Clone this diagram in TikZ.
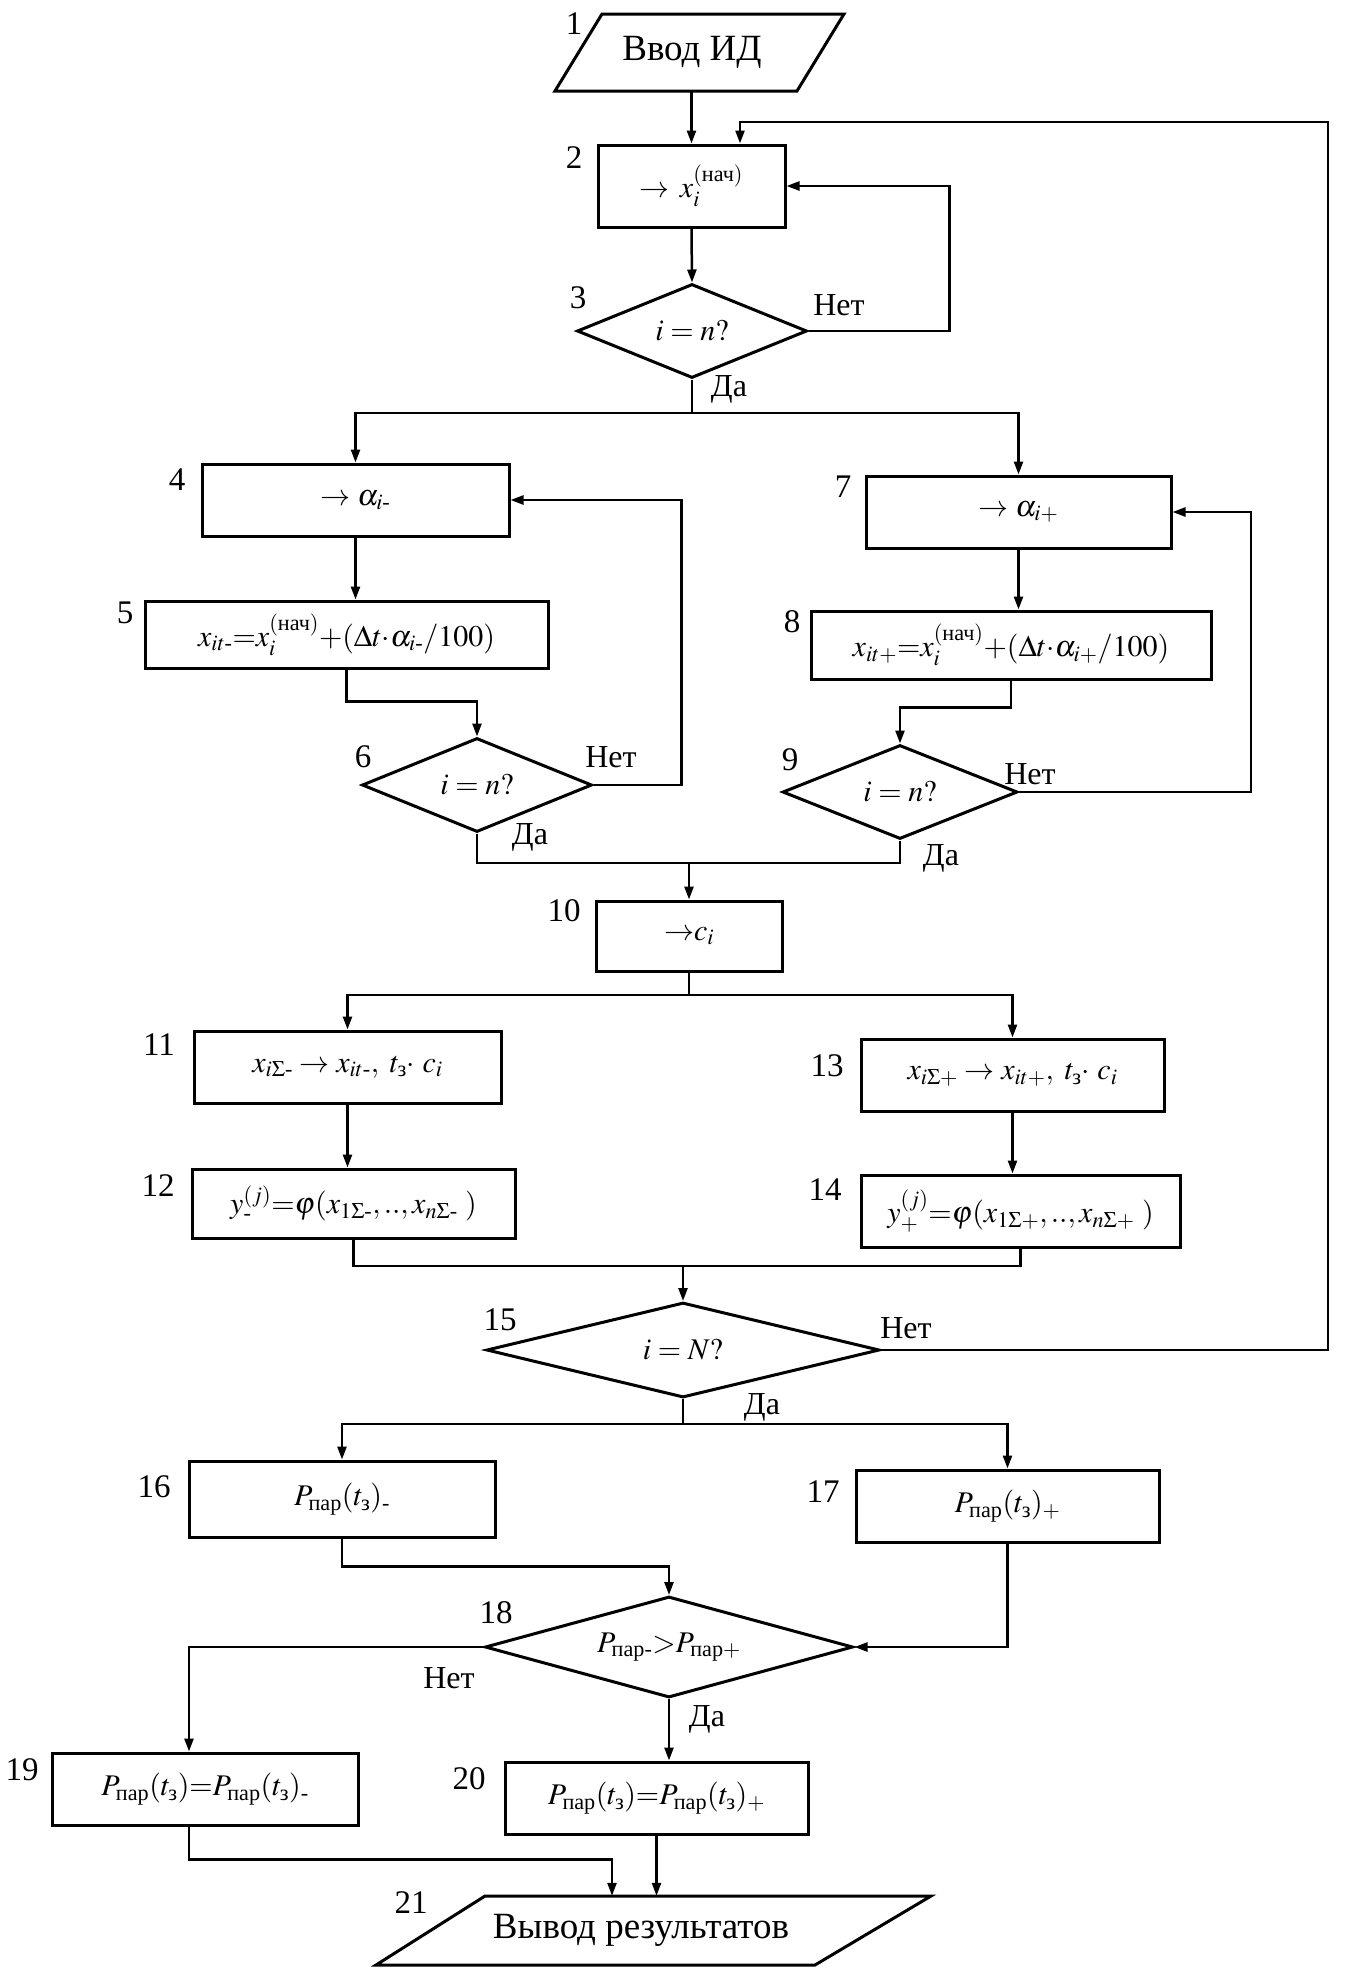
\documentclass[tikz,border=0pt]{standalone}
\usepackage{amsmath}
\usepackage{mathptmx}
\usepackage{fontspec}
\setmainfont{Liberation Serif}
\usetikzlibrary{shapes.geometric,arrows.meta,calc}
\newcommand{\nch}{\text{нач}}
\newcommand{\pr}{\text{пар}}
\newcommand{\tz}{t_{\text{з}}}
\newcommand{\mn}{\text{-}}
\begin{document}
\begin{tikzpicture}[x=1pt,y=-1pt,
  base/.style={draw, line width=3pt, inner sep=0pt, font=\fontsize{30}{36}\selectfont},
  bx/.style 2 args={base, rectangle, minimum width=#1pt, minimum height=#2pt},
  dec/.style 2 args={base, diamond, aspect=3, minimum width=#1pt, minimum height=#2pt},
  iotext/.style 2 args={inner sep=0pt, minimum width=#1pt, minimum height=#2pt, font=\fontsize{37}{44}\selectfont},
  ioline/.style={line width=3pt, line join=miter},
  lab/.style={inner sep=0pt, font=\fontsize{33}{40}\selectfont},
  yn/.style={inner sep=0pt, font=\fontsize{32}{38}\selectfont},
  ln/.style={line width=2.5pt},
  arr/.style={ln, -{Triangle[length=13pt,width=9pt]}}]
\useasboundingbox (0,0) rectangle (1350,1976);

% input / output blocks (parallelograms)
\node[iotext={240}{77}] (n1) at (692,52.5) {Ввод ИД};
\draw[ioline] (602,14) -- (844,14) -- (797,91) -- (555,91) -- cycle;
\node[iotext={300}{69}] (n21) at (641,1930.5) {Вывод результатов};
\draw[ioline] (485,1896) -- (931,1896) -- (815,1965) -- (376,1965) -- cycle;

% process and decision blocks
\node[bx={187}{82}] (n2) at (691.5,186) {$\rightarrow\, x_i^{(\nch)}$};
\node[dec={230}{94}] (n3) at (692,331) {$i = n?$};
\node[bx={307}{72}] (n4) at (355.5,500) {$\rightarrow \alpha_{i\mn}$};
\node[bx={403}{67}] (n5) at (346.5,634.5) {$x_{it\mn}{=}x_i^{(\nch)}{+}(\Delta t{\cdot}\alpha_{i\mn}/100)$};
\node[dec={230}{94}] (n6) at (477,785) {$i = n?$};
\node[bx={305}{72}] (n7) at (1018.5,512) {$\rightarrow \alpha_{i+}$};
\node[bx={400}{68}] (n8) at (1011,645) {$x_{it+}{=}x_i^{(\nch)}{+}(\Delta t{\cdot}\alpha_{i+}/100)$};
\node[dec={235}{94}] (n9) at (900,792) {$i = n?$};
\node[bx={186}{70}] (n10) at (689,936) {${\rightarrow}c_i$};
\node[bx={307}{72}] (n11) at (347.5,1067) {$x_{i\Sigma\mn} \rightarrow x_{it\mn},\ \tz{\cdot}\ c_i$};
\node[bx={323}{69}] (n12) at (353.5,1203.5) {$y_{\mn}^{(j)}{=}\varphi(x_{1\Sigma\mn},.., x_{n\Sigma\mn}\ )$};
\node[bx={303}{72}] (n13) at (1012.5,1075) {$x_{i\Sigma+} \rightarrow x_{it+},\ \tz{\cdot}\ c_i$};
\node[bx={319}{72}] (n14) at (1020.5,1211) {$y_+^{(j)}{=}\varphi(x_{1\Sigma+},.., x_{n\Sigma+}\ )$};
\node[dec={393}{95}] (n15) at (683,1350) {$i = N?$};
\node[bx={306}{76}] (n16) at (342,1499) {$P_{\pr}(\tz)_{\mn}$};
\node[bx={303}{72}] (n17) at (1007.5,1506) {$P_{\pr}(\tz)_+$};
\node[dec={368}{101}] (n18) at (669,1647) {$P_{\pr\mn}{>}P_{\pr+}$};
\node[bx={306}{72}] (n19) at (205,1789) {$P_{\pr}(\tz){=}P_{\pr}(\tz)_{\mn}$};
\node[bx={303}{72}] (n20) at (656.5,1798) {$P_{\pr}(\tz){=}P_{\pr}(\tz)_+$};

% number labels
\node[lab] (l1) at (574,24) {1};
\node[lab] (l2) at (574,158) {2};
\node[lab] (l3) at (578,298) {3};
\node[lab] (l4) at (177,480) {4};
\node[lab] (l5) at (125,613) {5};
\node[lab] (l6) at (363,757) {6};
\node[lab] (l7) at (843,487) {7};
\node[lab] (l8) at (792,622) {8};
\node[lab] (l9) at (790,760) {9};
\node[lab] (l10) at (564,911) {10};
\node[lab] (l11) at (159,1045) {11};
\node[lab] (l12) at (158,1186) {12};
\node[lab] (l13) at (827,1066) {13};
\node[lab] (l14) at (825,1190) {14};
\node[lab] (l15) at (500,1320) {15};
\node[lab] (l16) at (154,1487) {16};
\node[lab] (l17) at (823,1492) {17};
\node[lab] (l18) at (496,1613) {18};
\node[lab] (l19) at (22,1770) {19};
\node[lab] (l20) at (469,1779) {20};
\node[lab] (l21) at (411,1903) {21};

% yes / no labels
\node[yn] (no3) at (839,305) {Нет};
\node[yn] (yes3) at (729,389) {Да};
\node[yn] (no6) at (611,757) {Нет};
\node[yn] (yes6) at (530,837) {Да};
\node[yn] (no9) at (1030,774) {Нет};
\node[yn] (yes9) at (941,858) {Да};
\node[yn] (no15) at (906,1328) {Нет};
\node[yn] (yes15) at (762,1407) {Да};
\node[yn] (no18) at (449,1678) {Нет};
\node[yn] (yes18) at (707,1719) {Да};

% junction coordinates
\coordinate (s3) at (692,413);
\coordinate (m1) at (689,863);
\coordinate (s10) at (689,995);
\coordinate (m2) at (683,1266);
\coordinate (s15) at (683,1424);
\coordinate (top) at (1328,122);

% connectors
\draw[arr] (n1.south -| n2.north) -- (n2.north);
\draw[arr] (n2.south) -- (n3.north);
\draw[arr] (n3.east) -- ++(141,0) |- (n2.east);
\draw[ln] (n3.south) -- (s3);
\draw[arr] (s3) -| (n4.north);
\draw[arr] (s3) -| (n7.north);
\draw[arr] (n4.south) -- (n4.south |- n5.north);
\draw[arr] (n5.south) -- ++(0,32) -| (n6.north);
\draw[arr] (n6.east) -- ++(88,0) |- (n4.east);
\draw[arr] (n7.south) -- (n7.south |- n8.north);
\draw[arr] (n8.south) -- ++(0,27) -| (n9.north);
\draw[arr] (n9.east) -- ++(232,0) |- (n7.east);
\draw[ln] (n6.south) |- (m1) -| (n9.south);
\draw[arr] (m1) -- (n10.north);
\draw[ln] (n10.south) -- (s10);
\draw[arr] (s10) -| (n11.north);
\draw[arr] (s10) -| (n13.north);
\draw[arr] (n11.south) -- (n11.south |- n12.north);
\draw[arr] (n13.south) -- (n13.south |- n14.north);
\draw[ln] (n12.south) |- (m2) -| (n14.south);
\draw[arr] (m2) -- (n15.north);
\draw[arr] (n15.east) -| (top) -| ([xshift=48.5pt]n2.north);
\draw[ln] (n15.south) -- (s15);
\draw[arr] (s15) -| (n16.north);
\draw[arr] (s15) -| (n17.north);
\draw[arr] (n16.south) -- ++(0,28) -| (n18.north);
\draw[arr] (n17.south) |- (n18.east);
\draw[arr] (n18.west) -| ([xshift=-16pt]n19.north);
\draw[arr] (n18.south) -- (n18.south |- n20.north);
\draw[arr] ([xshift=-16pt]n19.south) -- ++(0,33) -| ([xshift=-29pt]n21.north);
\draw[arr] (n20.south) -- (n20.south |- n21.north);
\end{tikzpicture}
\end{document}
